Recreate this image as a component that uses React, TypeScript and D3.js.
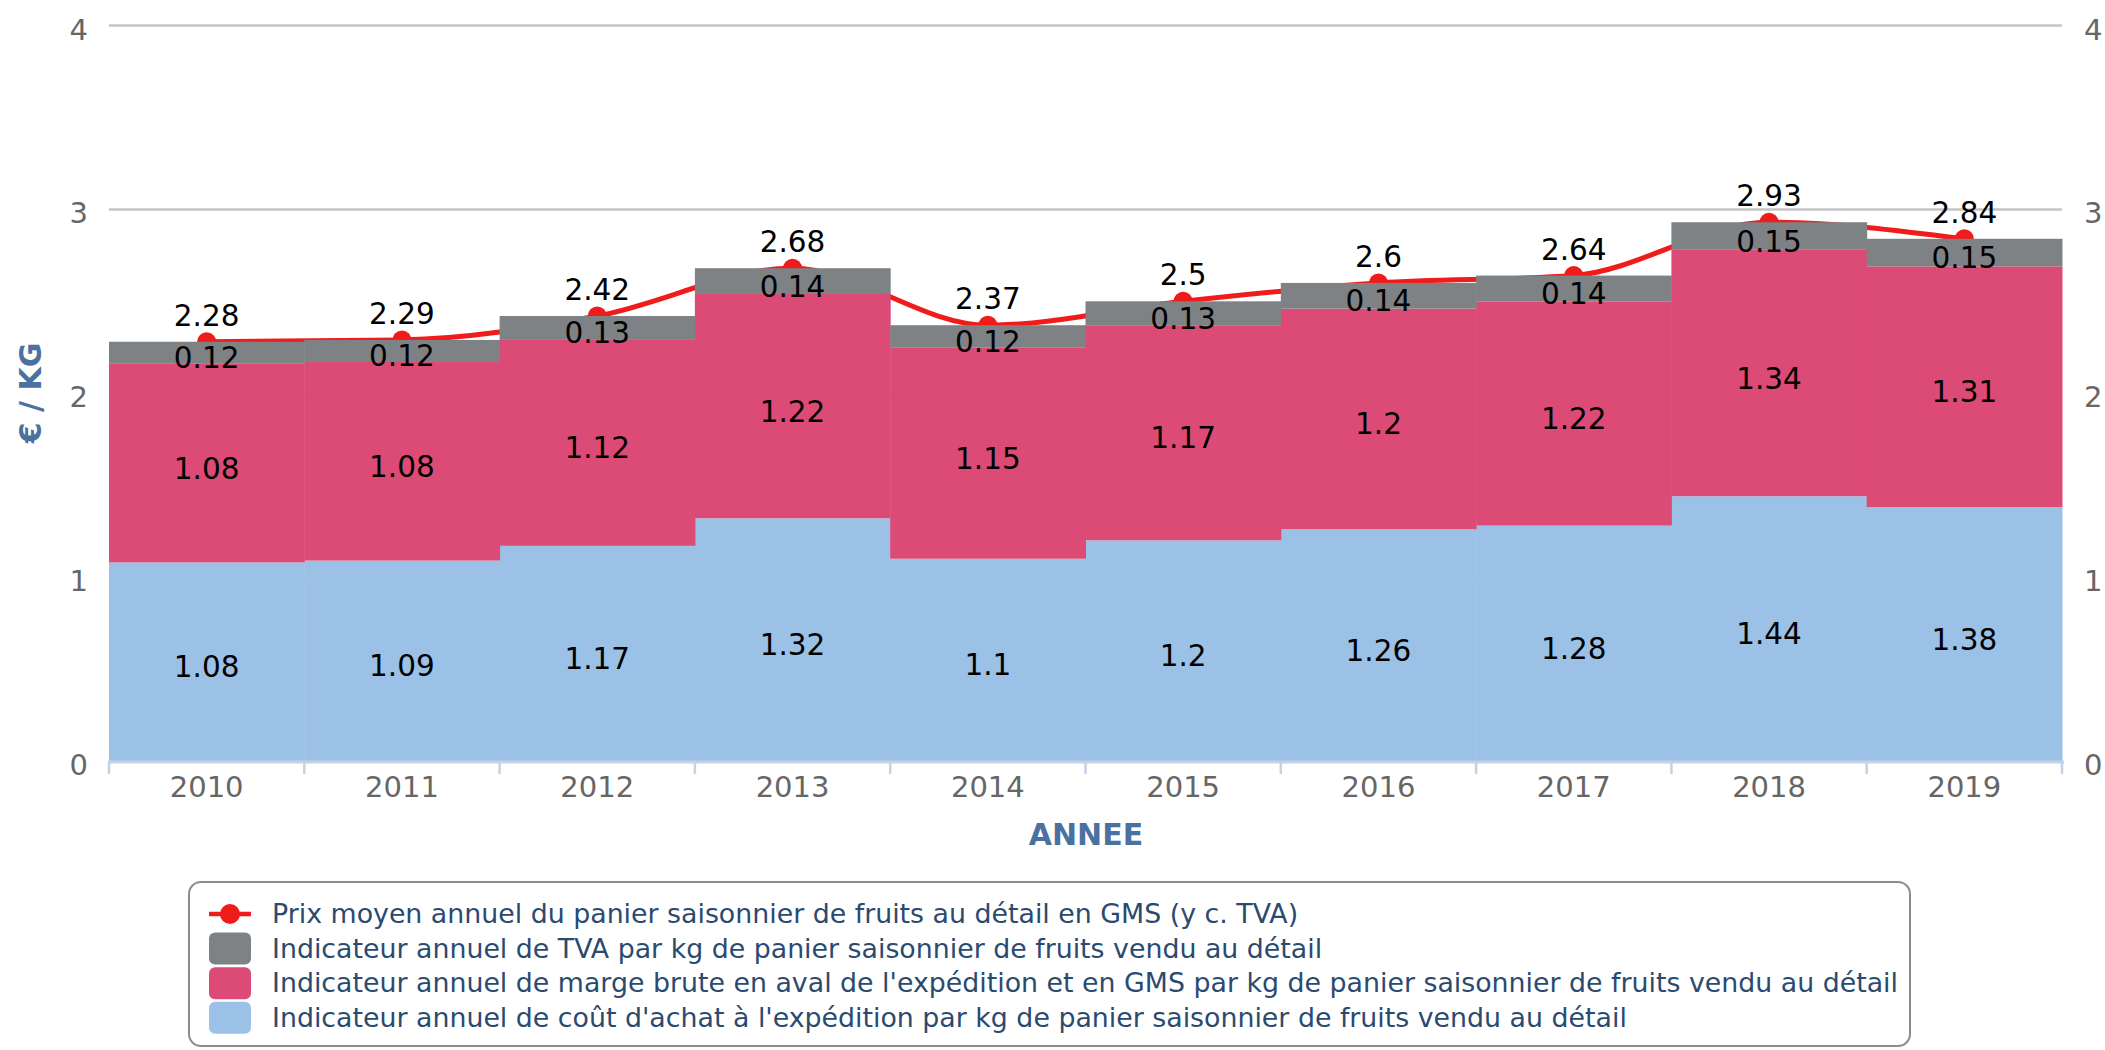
import React, { useEffect, useRef } from "react";
import * as d3 from "d3";

const years = ["2010", "2011", "2012", "2013", "2014", "2015", "2016", "2017", "2018", "2019"];
const coutAchat = [1.08, 1.09, 1.17, 1.32, 1.1, 1.2, 1.26, 1.28, 1.44, 1.38];
const margeBrute = [1.08, 1.08, 1.12, 1.22, 1.15, 1.17, 1.2, 1.22, 1.34, 1.31];
const tva = [0.12, 0.12, 0.13, 0.14, 0.12, 0.13, 0.14, 0.14, 0.15, 0.15];
const prix = [2.28, 2.29, 2.42, 2.68, 2.37, 2.5, 2.6, 2.64, 2.93, 2.84];
const yTicks = [0, 1, 2, 3, 4];

const legendLabels = [
  "Prix moyen annuel du panier saisonnier de fruits au détail en GMS (y c. TVA)",
  "Indicateur annuel de TVA par kg de panier saisonnier de fruits vendu au détail",
  "Indicateur annuel de marge brute en aval de l'expédition et en GMS par kg de panier saisonnier de fruits vendu au détail",
  "Indicateur annuel de coût d'achat à l'expédition par kg de panier saisonnier de fruits vendu au détail",
];

const COL_BLUE = "#9cc1e6";
const COL_PINK = "#dc4b76";
const COL_GRAY = "#7e8285";
const COL_RED = "#f01b1b";
const FONT = "'DejaVu Sans', sans-serif";

export default function App() {
  const ref = useRef<SVGSVGElement>(null);

  useEffect(() => {
    document.body.style.margin = "0";
    document.body.style.overflow = "hidden";
    const svg = d3.select(ref.current);
    svg.selectAll("*").remove();

    const x = d3.scaleBand<string>().domain(years).range([109, 2062]).padding(0);
    const y = d3.scaleLinear().domain([0, 4]).range([761, 25.5]);

    // gridlines
    svg.append("g").selectAll("line").data(yTicks.filter(t => t > 0)).join("line")
      .attr("x1", 109).attr("x2", 2062)
      .attr("y1", d => y(d)).attr("y2", d => y(d))
      .attr("stroke", "#c4c4c4").attr("stroke-width", 2.5);

    // price line (behind bars)
    const pts = years.map((yr, i) => [x(yr)! + x.bandwidth() / 2, y(prix[i])] as [number, number]);
    const line = d3.line().curve(d3.curveMonotoneX);
    svg.append("path").attr("d", line(pts)).attr("fill", "none")
      .attr("stroke", COL_RED).attr("stroke-width", 5);
    svg.append("g").selectAll("circle").data(pts).join("circle")
      .attr("cx", d => d[0]).attr("cy", d => d[1]).attr("r", 9.5).attr("fill", COL_RED);

    // stacked bars
    const rows = years.map((yr, i) => ({ yr, a: coutAchat[i], m: margeBrute[i], t: tva[i] }));
    const stack = d3.stack<any>().keys(["a", "m", "t"])(rows);
    const colors = [COL_BLUE, COL_PINK, COL_GRAY];
    stack.forEach((layer, li) => {
      const g = svg.append("g");
      g.selectAll("rect").data(layer).join("rect")
        .attr("x", d => x(d.data.yr)!)
        .attr("width", x.bandwidth() + 0.5)
        .attr("y", d => y(d[1]))
        .attr("height", d => y(d[0]) - y(d[1]))
        .attr("fill", colors[li]);
    });
    // segment labels
    stack.forEach((layer) => {
      svg.append("g").selectAll("text").data(layer).join("text")
        .attr("x", d => x(d.data.yr)! + x.bandwidth() / 2)
        .attr("y", d => (y(d[0]) + y(d[1])) / 2 + 15.5)
        .attr("text-anchor", "middle")
        .attr("font-family", FONT).attr("font-size", 29.5).attr("fill", "#000")
        .text(d => String(+(d[1] - d[0]).toFixed(2)));
    });

    // x axis
    svg.append("line").attr("x1", 108).attr("x2", 2064).attr("y1", 762).attr("y2", 762)
      .attr("stroke", "#c3d2e4").attr("stroke-width", 3);
    const bounds = years.map(yr => x(yr)!).concat([x.range()[1]]);
    svg.append("g").selectAll("line").data(bounds).join("line")
      .attr("x1", d => d).attr("x2", d => d).attr("y1", 762).attr("y2", 774)
      .attr("stroke", "#c3d2e4").attr("stroke-width", 2.5);
    svg.append("g").selectAll("text").data(years).join("text")
      .attr("x", d => x(d)! + x.bandwidth() / 2).attr("y", 797)
      .attr("text-anchor", "middle").attr("font-family", FONT).attr("font-size", 29)
      .attr("fill", "#666").text(d => d);

    // y axis labels
    svg.append("g").selectAll("text").data(yTicks).join("text")
      .attr("x", 88).attr("y", d => y(d) + 14).attr("text-anchor", "end")
      .attr("font-family", FONT).attr("font-size", 29).attr("fill", "#666").text(d => d);
    svg.append("g").selectAll("text").data(yTicks).join("text")
      .attr("x", 2084).attr("y", d => y(d) + 14).attr("text-anchor", "start")
      .attr("font-family", FONT).attr("font-size", 29).attr("fill", "#666").text(d => d);

    // axis titles
    svg.append("text").attr("x", 1086).attr("y", 845).attr("text-anchor", "middle")
      .attr("font-family", FONT).attr("font-size", 30).attr("font-weight", "bold")
      .attr("fill", "#4a72a0").text("ANNEE");
    svg.append("text").attr("transform", "translate(41,393) rotate(-90)")
      .attr("text-anchor", "middle")
      .attr("font-family", FONT).attr("font-size", 30).attr("font-weight", "bold")
      .attr("fill", "#4a72a0").text("€ / KG");

    // price labels
    svg.append("g").selectAll("text").data(years).join("text")
      .attr("x", (d) => x(d)! + x.bandwidth() / 2)
      .attr("y", (d, i) => y(prix[i]) - 16)
      .attr("text-anchor", "middle").attr("font-family", FONT).attr("font-size", 29.5)
      .attr("fill", "#000").text((d, i) => String(prix[i]));

    // legend
    const lg = svg.append("g");
    lg.append("rect").attr("x", 189).attr("y", 882).attr("width", 1721).attr("height", 164)
      .attr("rx", 12).attr("fill", "#fff").attr("stroke", "#8c8c8c").attr("stroke-width", 2);
    const rowY = (i: number) => 914 + i * 34.6;
    legendLabels.forEach((lab, i) => {
      const cy = rowY(i);
      if (i === 0) {
        lg.append("line").attr("x1", 209).attr("x2", 251).attr("y1", cy).attr("y2", cy)
          .attr("stroke", COL_RED).attr("stroke-width", 4.5);
        lg.append("circle").attr("cx", 230).attr("cy", cy).attr("r", 10).attr("fill", COL_RED);
      } else {
        lg.append("rect").attr("x", 209).attr("y", cy - 16).attr("width", 42).attr("height", 32)
          .attr("rx", 6).attr("fill", colors[3 - i]);
      }
      lg.append("text").attr("x", 272).attr("y", cy + 9)
        .attr("font-family", FONT).attr("font-size", 26.8).attr("fill", "#2a4a70").text(lab);
    });
  }, []);

  return <svg ref={ref} width={2105} height={1050} style={{ display: "block" }} />;
}
